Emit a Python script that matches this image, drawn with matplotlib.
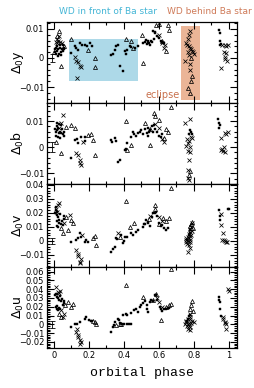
import matplotlib
matplotlib.use("Agg")
import matplotlib.pyplot as plt
from matplotlib.ticker import MultipleLocator, FuncFormatter
from matplotlib.patches import Rectangle

# ---------------- data (phase, value) ----------------
y_tri = [(0.03, 0.0092), (0.042, -0.0026), (0.015, 0.0075), (0.0, 0.002), (0.055, 0.004), (0.10, 0.0065),
         (0.194, 0.0029), (0.232, 0.0), (0.232, -0.003), (0.413, 0.0066), (0.44, 0.006), (0.45, 0.0034),
         (0.505, 0.008), (0.509, -0.0017), (0.585, 0.0115), (0.60, 0.0118), (0.65, 0.0115), (0.66, 0.0095),
         (0.642, 0.0023), (0.784, 0.0), (0.79, -0.0063), (0.782, -0.008), (0.766, -0.0103), (0.775, -0.012),
         (0.62, 0.006)]
y_sq = [(0.005, 0.003), (0.01, 0.0015), (0.015, 0.004), (0.02, 0.0025), (0.025, 0.003), (0.03, 0.0015),
        (0.035, 0.0035), (0.04, 0.002), (0.045, 0.003), (0.05, 0.0045), (0.055, 0.0035), (0.06, 0.003),
        (0.012, 0.0035), (0.022, 0.0008), (0.032, 0.0045), (0.042, 0.001), (0.008, 0.0022), (0.05, 0.0025),
        (0.10, 0.0017), (0.118, 0.004), (0.125, 0.0035), (0.147, 0.005), (0.16, 0.0045), (0.175, 0.0046),
        (0.19, 0.004), (0.204, 0.005), (0.215, 0.0042), (0.14, 0.0028),
        (0.328, 0.0011), (0.335, 0.0015), (0.347, 0.0029), (0.356, 0.004), (0.366, 0.0046), (0.379, -0.0029),
        (0.394, -0.0046), (0.404, 0.0023), (0.41, 0.0015), (0.42, 0.0028), (0.432, 0.004), (0.44, 0.0038),
        (0.48, 0.004), (0.462, 0.0035),
        (0.51, 0.005), (0.52, 0.0055), (0.53, 0.0048), (0.535, 0.0057), (0.54, 0.005), (0.545, 0.0053),
        (0.55, 0.0045), (0.555, 0.006), (0.56, 0.0056), (0.566, 0.0092), (0.575, 0.0085), (0.58, 0.0088),
        (0.59, 0.0075), (0.60, 0.007), (0.61, 0.006), (0.62, 0.0055), (0.63, 0.005), (0.57, 0.0065),
        (0.525, 0.0062),
        (0.943, 0.0098), (0.947, 0.0085), (0.947, 0.0046), (0.95, 0.006), (0.955, 0.0048)]
y_x = [(0.02, 0.0065), (0.025, 0.006), (0.03, 0.0075), (0.035, 0.0055), (0.01, 0.0055), (0.045, 0.005),
       (0.018, 0.005), (0.128, -0.0011), (0.135, -0.0015), (0.147, -0.0029), (0.152, -0.003), (0.13, -0.0069),
       (0.12, 0.0005), (0.60, 0.008), (0.62, 0.005), (0.63, 0.0035), (0.635, 0.0045),
       (0.775, 0.0092), (0.772, 0.008), (0.768, 0.0065), (0.756, 0.0052), (0.762, 0.0045), (0.77, 0.004),
       (0.778, 0.0035), (0.785, 0.003), (0.79, 0.0025), (0.795, 0.002), (0.80, 0.0015), (0.747, -0.0011),
       (0.775, -0.004), (0.78, -0.002), (0.765, 0.002), (0.77, 0.001),
       (0.96, 0.0046), (0.975, 0.0046), (0.985, 0.004), (0.994, 0.0046), (0.985, 0.0017), (0.975, 0.0005),
       (0.98, -0.0005), (0.99, -0.001), (0.956, -0.0034), (0.97, 0.002)]

b_tri = [(0.038, -0.0023), (0.013, 0.0022), (0.07, 0.0079), (0.1, 0.0085), (0.12, 0.0075), (0.194, 0.0047),
         (0.21, 0.005), (0.223, 0.0028), (0.236, -0.0029), (0.413, 0.0102), (0.44, 0.001), (0.42, -0.001),
         (0.571, 0.0132), (0.58, 0.012), (0.60, 0.0105), (0.52, 0.0095), (0.55, 0.007), (0.547, 0.0009),
         (0.64, 0.007), (0.65, 0.006), (0.67, 0.0155), (0.628, 0.0035), (0.775, -0.0093), (0.77, -0.0105)]
b_sq = [(0.005, 0.007), (0.01, 0.006), (0.015, 0.008), (0.02, 0.0065), (0.025, 0.0075), (0.03, 0.009),
        (0.035, 0.006), (0.04, 0.0055), (0.045, 0.007), (0.05, 0.005), (0.055, 0.006), (0.06, 0.0045),
        (0.012, 0.0045), (0.022, 0.004), (0.032, 0.0035), (0.042, 0.0085), (0.018, 0.0095), (0.028, 0.0055),
        (0.097, -0.0042), (0.118, 0.0028), (0.137, 0.0015), (0.156, 0.004), (0.175, 0.004), (0.18, 0.0025),
        (0.13, 0.003),
        (0.328, 0.0028), (0.333, 0.002), (0.347, 0.0034), (0.352, 0.0025), (0.375, -0.0048), (0.366, -0.0055),
        (0.404, -0.001), (0.41, -0.0005), (0.42, 0.0015), (0.442, 0.004), (0.45, 0.006), (0.46, 0.005),
        (0.47, 0.0045), (0.48, 0.0055),
        (0.49, 0.006), (0.50, 0.0065), (0.51, 0.005), (0.52, 0.007), (0.53, 0.0055), (0.54, 0.0075),
        (0.55, 0.0065), (0.56, 0.008), (0.565, 0.006), (0.57, 0.0085), (0.58, 0.007), (0.59, 0.006),
        (0.60, 0.0045), (0.61, 0.004), (0.62, 0.005), (0.535, 0.0045), (0.545, 0.0058),
        (0.77, 0.005), (0.778, 0.0065), (0.785, 0.0058), (0.79, 0.005),
        (0.939, 0.011), (0.944, 0.0095), (0.944, 0.0073), (0.95, 0.0085)]
b_x = [(0.051, 0.0124), (0.04, 0.0095), (0.03, 0.0075), (0.128, -0.0023), (0.137, -0.0028), (0.147, -0.006),
       (0.156, -0.0067), (0.15, -0.005), (0.165, 0.002), (0.58, 0.009), (0.60, 0.0075), (0.62, 0.003),
       (0.63, 0.002), (0.747, 0.0092), (0.779, 0.011), (0.76, 0.003), (0.765, 0.0015), (0.755, 0.0005),
       (0.77, 0.0025), (0.775, 0.0), (0.765, -0.0015), (0.78, -0.002), (0.772, -0.0048), (0.768, -0.0087),
       (0.766, -0.0118), (0.772, -0.0125), (0.785, 0.004), (0.79, 0.0035),
       (0.956, 0.0034), (0.975, 0.0053), (0.994, 0.006), (0.985, 0.005), (0.956, -0.001), (0.966, -0.0015),
       (0.975, -0.002), (0.962, -0.0005), (0.97, 0.0)]

v_tri = [(0.07, 0.017), (0.1, 0.015), (0.11, 0.0126), (0.08, 0.0079), (0.05, 0.0055), (0.04, 0.009),
         (0.223, 0.0019), (0.242, -0.0029), (0.232, 0.0036), (0.409, 0.0288), (0.375, 0.003), (0.432, 0.0102),
         (0.457, 0.0131), (0.575, 0.0257), (0.58, 0.023), (0.623, 0.0162), (0.64, 0.014), (0.66, 0.0162),
         (0.67, 0.0376), (0.545, 0.016), (0.60, 0.012), (0.79, 0.0138), (0.785, 0.012), (0.78, 0.0105),
         (0.795, 0.009)]
v_sq = [(0.005, 0.02), (0.01, 0.022), (0.015, 0.0185), (0.02, 0.021), (0.025, 0.017), (0.03, 0.015),
        (0.035, 0.019), (0.04, 0.012), (0.045, 0.014), (0.05, 0.0115), (0.02, 0.011), (0.025, 0.01),
        (0.03, 0.013), (0.015, 0.0145), (0.06, 0.018), (0.055, 0.016), (0.01, 0.024),
        (0.1, -0.0005), (0.128, 0.0007), (0.14, 0.002), (0.156, 0.003), (0.175, -0.0005), (0.194, -0.0005),
        (0.185, 0.0005), (0.147, 0.0055),
        (0.328, -0.0076), (0.335, -0.006), (0.347, -0.004), (0.356, 0.0019), (0.36, 0.0015), (0.394, -0.0017),
        (0.40, 0.0), (0.404, 0.003), (0.42, 0.0025), (0.45, 0.0043), (0.47, 0.0067), (0.48, 0.0079),
        (0.385, 0.0045), (0.44, 0.0055),
        (0.509, 0.0102), (0.515, 0.012), (0.528, 0.015), (0.535, 0.013), (0.54, 0.0135), (0.55, 0.011),
        (0.56, 0.017), (0.566, 0.0198), (0.575, 0.02), (0.585, 0.021), (0.59, 0.018), (0.60, 0.0126),
        (0.61, 0.011), (0.62, 0.0115), (0.63, 0.009), (0.642, 0.0079), (0.65, 0.0095), (0.52, 0.012),
        (0.77, 0.004), (0.775, 0.006), (0.78, 0.008), (0.76, 0.001),
        (0.943, 0.022), (0.947, 0.018), (0.947, 0.015), (0.994, 0.0226), (1.0, 0.0226)]
v_x = [(0.023, 0.0257), (0.03, 0.027), (0.013, 0.023), (0.018, 0.021), (0.09, 0.0186), (0.06, 0.0125),
       (0.128, -0.0064), (0.137, -0.011), (0.147, -0.0148), (0.155, -0.013), (0.14, -0.009), (0.15, -0.016),
       (0.16, 0.0045), (0.365, 0.006), (0.55, 0.018), (0.60, 0.017), (0.62, 0.014),
       (0.79, 0.0125), (0.785, 0.01), (0.78, 0.0085), (0.775, 0.0065), (0.77, 0.005), (0.766, 0.003),
       (0.757, 0.0019), (0.757, -0.0005), (0.762, -0.002), (0.775, -0.0052), (0.766, -0.0076), (0.78, 0.0035),
       (0.775, 0.001), (0.785, 0.0045), (0.765, 0.0), (0.77, -0.003), (0.755, 0.0005), (0.78, -0.001),
       (0.772, 0.002), (0.79, 0.007),
       (0.955, 0.019), (0.956, 0.0114), (0.966, 0.006), (0.962, 0.0007), (0.985, -0.0005), (0.99, -0.001),
       (0.975, 0.0), (0.97, 0.0005)]

u_tri = [(0.061, 0.0215), (0.08, 0.025), (0.109, 0.0234), (0.1, 0.0196), (0.029, 0.012), (0.04, 0.008),
         (0.232, 0.0026), (0.242, 0.0008), (0.225, 0.004), (0.41, 0.0453), (0.355, -0.001), (0.375, 0.0),
         (0.385, 0.0005), (0.51, 0.031), (0.585, 0.0347), (0.61, 0.0045), (0.64, 0.02), (0.66, 0.0215),
         (0.67, 0.0234), (0.67, 0.0625), (0.79, 0.027), (0.785, 0.0215), (0.78, 0.018), (0.795, 0.015),
         (0.565, 0.028)]
u_sq = [(0.005, 0.033), (0.01, 0.035), (0.015, 0.031), (0.02, 0.034), (0.025, 0.03), (0.03, 0.028),
        (0.035, 0.032), (0.04, 0.026), (0.045, 0.029), (0.05, 0.022), (0.01, 0.02), (0.015, 0.018),
        (0.02, 0.021), (0.025, 0.016), (0.03, 0.019), (0.035, 0.017), (0.055, 0.027), (0.06, 0.024),
        (0.1, -0.003), (0.118, 0.0008), (0.13, 0.0), (0.147, 0.0026), (0.175, 0.0064), (0.185, 0.0083),
        (0.2, 0.005), (0.21, 0.004), (0.22, 0.0035),
        (0.328, -0.0087), (0.337, -0.003), (0.342, -0.001), (0.347, 0.0026), (0.366, 0.0064), (0.372, 0.005),
        (0.394, 0.0102), (0.413, 0.012), (0.42, 0.011), (0.44, 0.0125), (0.46, 0.0158), (0.47, 0.017),
        (0.48, 0.014), (0.39, 0.0), (0.40, 0.0005), (0.42, 0.0), (0.43, 0.0005), (0.44, 0.0), (0.38, 0.001),
        (0.49, 0.02), (0.50, 0.022), (0.51, 0.024), (0.52, 0.027), (0.53, 0.022), (0.547, 0.0253),
        (0.555, 0.028), (0.565, 0.026), (0.575, 0.033), (0.585, 0.033), (0.59, 0.028), (0.604, 0.0196),
        (0.61, 0.018), (0.62, 0.015), (0.63, 0.017), (0.642, 0.0175), (0.65, 0.019), (0.66, 0.0185),
        (0.53, 0.018), (0.54, 0.014),
        (0.765, 0.006), (0.77, 0.009), (0.775, 0.011), (0.76, 0.004),
        (0.943, 0.031), (0.947, 0.0253), (0.951, 0.0177), (0.945, 0.028), (0.955, 0.009)]
u_x = [(0.013, 0.042), (0.023, 0.0366), (0.03, 0.036), (0.035, 0.038), (0.042, 0.0158), (0.051, 0.0083),
       (0.06, 0.012), (0.128, -0.0087), (0.137, -0.0143), (0.147, -0.018), (0.156, -0.02), (0.14, -0.012),
       (0.15, -0.022), (0.13, -0.005), (0.59, 0.03), (0.60, 0.025), (0.62, 0.02),
       (0.775, 0.012), (0.766, 0.0064), (0.757, 0.0026), (0.747, 0.0008), (0.76, -0.0015), (0.766, -0.0049),
       (0.775, -0.0068), (0.78, -0.003), (0.785, 0.002), (0.79, 0.004), (0.80, 0.0026), (0.77, 0.0015),
       (0.755, 0.004), (0.775, 0.0055), (0.78, 0.008), (0.765, 0.0), (0.77, -0.002),
       (0.966, 0.0083), (0.975, 0.0026), (0.985, -0.0049), (0.965, 0.0064), (0.985, 0.0), (0.994, 0.04),
       (1.0, 0.0385), (0.98, 0.002)]

panel_labels = [r"$\Delta_0$y", r"$\Delta_0$b", r"$\Delta_0$v", r"$\Delta_0$u"]
panel_data = [(y_tri, y_sq, y_x), (b_tri, b_sq, b_x), (v_tri, v_sq, v_x), (u_tri, u_sq, u_x)]
ylims = [(-0.0155, 0.0124), (-0.0141, 0.0170), (-0.0186, 0.0407), (-0.0270, 0.0653)]
ymajor = [0.01, 0.01, 0.01, 0.01]
yminor = [0.002, 0.002, 0.002, 0.002]
err_half = [0.0015, 0.002, 0.002, 0.004]
xticks = [0, 0.2, 0.4, 0.6, 0.8, 1]
xtick_labels = ["0", "0.2", "0.4", "0.6", "0.8", "1"]

W, H = 254, 388
fig = plt.figure(figsize=(W / 100, H / 100), dpi=100)
bounds = [22, 103, 184, 267, 348]
left, right = 47, 237

def fmt(v, pos):
    if abs(v) < 1e-9:
        return "0"
    s = "%g" % round(v, 4)
    return s.replace("-", "\u2212")

axes = []
for i in range(4):
    top, bot = bounds[i], bounds[i + 1]
    ax = fig.add_axes([left / W, 1 - bot / H, (right - left) / W, (bot - top) / H])
    axes.append(ax)
    tri, sq, xx = panel_data[i]
    ax.plot([p for p, v in tri], [v for p, v in tri], ls="none", marker="^", ms=2.9,
            mfc="none", mec="black", mew=0.55, zorder=3)
    ax.plot([p for p, v in sq], [v for p, v in sq], ls="none", marker="s", ms=2.1,
            mfc="black", mec="black", mew=0.3, zorder=3)
    ax.plot([p for p, v in xx], [v for p, v in xx], ls="none", marker="x", ms=2.7,
            mec="black", mew=0.55, zorder=3)
    ax.errorbar([-0.012], [0], yerr=[err_half[i]], fmt="none", ecolor="black",
                elinewidth=0.6, capsize=1.8, capthick=0.6)
    ax.set_xlim(-0.04, 1.046)
    ax.set_ylim(*ylims[i])
    ax.xaxis.set_major_locator(MultipleLocator(0.2))
    ax.xaxis.set_minor_locator(MultipleLocator(0.1))
    ax.yaxis.set_major_locator(MultipleLocator(ymajor[i]))
    ax.yaxis.set_minor_locator(MultipleLocator(yminor[i]))
    ax.yaxis.set_major_formatter(FuncFormatter(fmt))
    ax.tick_params(which="both", direction="in", top=True, right=True, width=0.8)
    ax.tick_params(which="major", length=5, labelsize=6, pad=2)
    ax.tick_params(which="minor", length=2.5)
    ax.set_xticks(xticks)
    if i < 3:
        ax.set_xticklabels([])
    else:
        ax.set_xticklabels(xtick_labels)
    ax.set_ylabel(panel_labels[i], fontsize=9, labelpad=2)
    for s in ax.spines.values():
        s.set_linewidth(0.9)

for ax in axes:
    ax.yaxis.set_label_coords(-0.11, 0.5)

axes[3].set_xlabel("orbital phase", fontsize=9.5, family="Liberation Mono", labelpad=5)

ax0 = axes[0]
ax0.add_patch(Rectangle((0.086, -0.0079), 0.394, 0.0145, facecolor="#add9e8", edgecolor="none", zorder=1))
ax0.add_patch(Rectangle((0.726, -0.0146), 0.108, 0.0256, facecolor="#ebb597", edgecolor="none", zorder=1))
ax0.text(0.72, -0.0128, "eclipse", color="#c8704c", fontsize=7, ha="right", va="center", zorder=2)

fig.text(108 / W, 1 - 11 / H, "WD in front of Ba star", color="#45b6d6", fontsize=6.5, ha="center", va="center")
fig.text(209 / W, 1 - 11 / H, "WD behind Ba star", color="#cf7a58", fontsize=6.5, ha="center", va="center")

fig.savefig("out.png", dpi=100)
